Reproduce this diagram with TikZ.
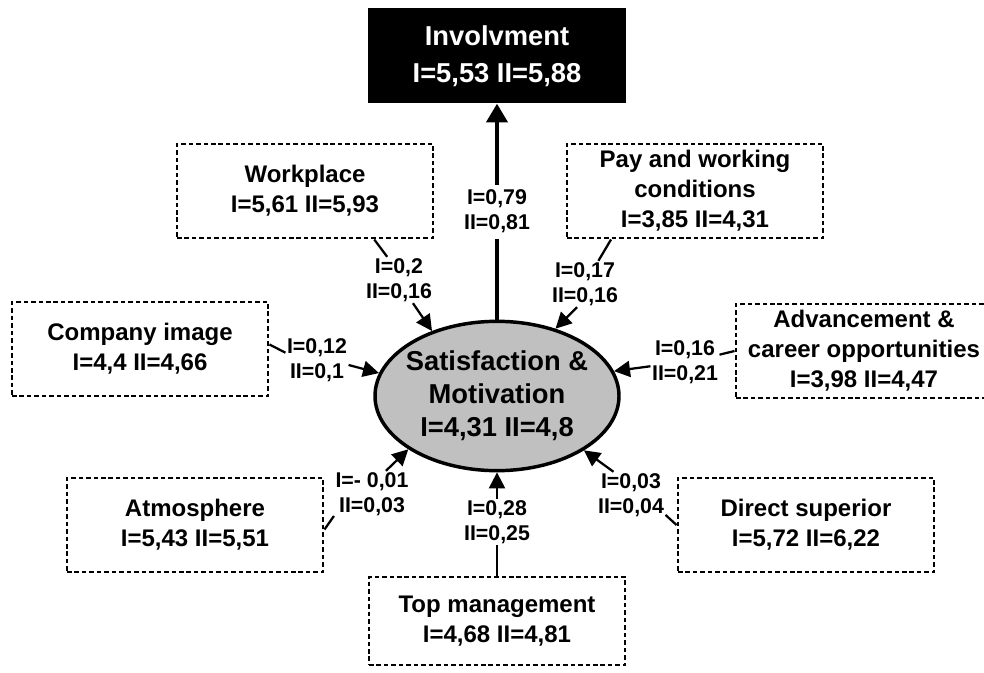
\documentclass[tikz,border=0pt]{standalone}
\usepackage{fontspec}
\setmainfont{Liberation Sans}
\usetikzlibrary{shapes.geometric}
\usetikzlibrary{arrows.meta}
\definecolor{ellgray}{RGB}{192,192,192}

\begin{document}
\begin{tikzpicture}[x=0.75pt, y=-0.75pt,
        factor/.style={draw, line width=2.2pt, dash pattern=on 3.4pt off 2.2pt, minimum width=192pt, minimum height=70.5pt, inner sep=0pt, align=center, font=\bfseries\fontsize{18}{22.5}\selectfont},
        coef/.style={inner sep=1pt, align=center, font=\bfseries\fontsize{16}{18.75}\selectfont},
        link/.style={line width=1.7pt},
        effect/.style={line width=1.7pt, -{Triangle[length=12pt, width=12pt]}}]
        \useasboundingbox (0,0) rectangle (984,673);
        \node[fill=black, text=white, minimum width=193.5pt, minimum height=71.25pt, inner sep=0pt, align=center, font=\bfseries\fontsize{20.5}{27.75}\selectfont] (inv) at (497,56) {Involvment\\I=5,53 II=5,88};
        \node[ellipse, draw, line width=2.6pt, fill=ellgray, minimum width=183pt, minimum height=112pt, inner sep=0pt] (sat) at (497,396) {};
        \node[align=center, font=\bfseries\fontsize{20.5}{24.75}\selectfont] (sattext) at (sat) {Satisfaction \&\\Motivation\\I=4,31 II=4,8};

        \node[factor] (wp) at (305,191) {Workplace\\I=5,61 II=5,93};
        \node[factor] (pay) at (695,191) {Pay and working\\conditions\\I=3,85 II=4,31};
        \node[factor] (ci) at (140,349) {Company image\\I=4,4 II=4,66};
        \node[factor] (adv) at (864,351) {Advancement \&\\career opportunities\\I=3,98 II=4,47};
        \node[factor] (atm) at (195,525) {Atmosphere\\I=5,43 II=5,51};
        \node[factor, minimum height=66pt] (top) at (497,621) {Top management\\I=4,68 II=4,81};
        \node[factor] (dir) at (806,525) {Direct superior\\I=5,72 II=6,22};

        \node[coef] (lwp) at (399,280) {I=0,2\\II=0,16};
        \node[coef] (lpay) at (585,284) {I=0,17\\II=0,16};
        \node[coef] (lci) at (317,360) {I=0,12\\II=0,1};
        \node[coef] (ladv) at (685,362) {I=0,16\\II=0,21};
        \node[coef] (latm) at (372,494) {I=- 0,01\\II=0,03};
        \node[coef] (ltop) at (497,522) {I=0,28\\II=0,25};
        \node[coef] (ldir) at (631,495) {I=0,03\\II=0,04};

        \draw[link] (wp.-35) -- (lwp.117);
        \draw[effect] (lwp.-59) -- (sat.135);
        \draw[link] (pay.210) -- (lpay.60);
        \draw[effect] (lpay.251) -- (sat.49);
        \draw[link] (ci.2) -- (lci.167);
        \draw[effect] (lci.-9) -- (sat.169);
        \draw[link] (adv.180) -- (ladv.12);
        \draw[effect] (ladv.187) -- (sat.12);
        \draw[link] (atm.-2) -- (latm.210);
        \draw[effect] (latm.59) -- (sat.211);
        \draw[link] (top.north) -- (ltop.south);
        \draw[effect] (ltop.north) -- (sat.south);
        \draw[link] (dir.west) -- (ldir.-30);
        \draw[effect] (ldir.127) -- (sat.-32);
        \draw[effect, line width=2.6pt, -{Triangle[length=14pt, width=16pt]}] (sat.north) -- node[coef, fill=white, inner sep=4pt] (linv) {I=0,79\\II=0,81} (inv.south);
\end{tikzpicture}
\end{document}
